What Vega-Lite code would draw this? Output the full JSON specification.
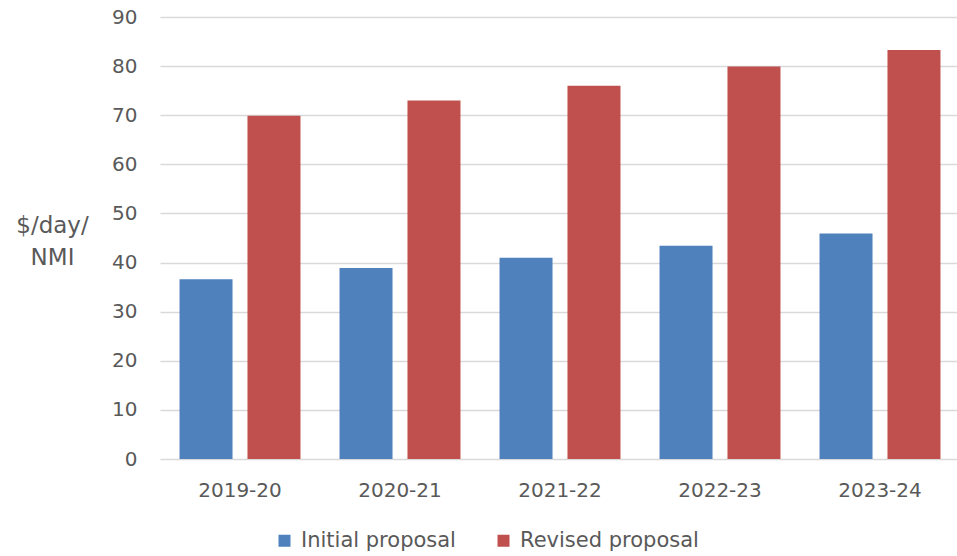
{
  "$schema": "https://vega.github.io/schema/vega-lite/v6.json",
  "width": 800,
  "height": 442,
  "autosize": {"type": "none"},
  "padding": {"left": 160, "top": 17, "right": 0, "bottom": 97},
  "background": "white",
  "config": {
    "font": "DejaVu Sans",
    "view": {"stroke": null}
  },
  "data": {
    "values": [
      {"year": "2019-20", "series": "Initial proposal", "value": 36.6},
      {"year": "2019-20", "series": "Revised proposal", "value": 69.9},
      {"year": "2020-21", "series": "Initial proposal", "value": 38.9},
      {"year": "2020-21", "series": "Revised proposal", "value": 73.0},
      {"year": "2021-22", "series": "Initial proposal", "value": 41.0},
      {"year": "2021-22", "series": "Revised proposal", "value": 76.0},
      {"year": "2022-23", "series": "Initial proposal", "value": 43.4},
      {"year": "2022-23", "series": "Revised proposal", "value": 79.9},
      {"year": "2023-24", "series": "Initial proposal", "value": 45.9},
      {"year": "2023-24", "series": "Revised proposal", "value": 83.3}
    ]
  },
  "mark": {"type": "bar"},
  "encoding": {
    "x": {
      "field": "year",
      "type": "nominal",
      "scale": {"paddingInner": 0.244, "paddingOuter": 0.122},
      "axis": {
        "title": null,
        "labelAngle": 0,
        "labelFontSize": 20,
        "labelColor": "#595959",
        "labelPadding": 31,
        "labelBaseline": "middle",
        "domain": false,
        "ticks": false
      }
    },
    "xOffset": {
      "field": "series",
      "type": "nominal",
      "scale": {"paddingInner": 0.22, "paddingOuter": 0}
    },
    "y": {
      "field": "value",
      "type": "quantitative",
      "scale": {"domain": [0, 90]},
      "axis": {
        "title": ["$/day/", "NMI"],
        "titleAngle": 0,
        "titleAlign": "center",
        "titleBaseline": "middle",
        "titleX": -108,
        "titleY": 208,
        "titleFontSize": 23,
        "titleFontWeight": "normal",
        "titleColor": "#595959",
        "titleLineHeight": 32,
        "values": [0, 10, 20, 30, 40, 50, 60, 70, 80, 90],
        "labelFontSize": 20,
        "labelColor": "#595959",
        "labelPadding": 23,
        "domain": false,
        "ticks": false,
        "gridColor": "#D9D9D9",
        "gridWidth": 1.3
      }
    },
    "color": {
      "field": "series",
      "type": "nominal",
      "scale": {
        "domain": ["Initial proposal", "Revised proposal"],
        "range": ["#4F81BD", "#C0504D"]
      },
      "legend": {
        "title": null,
        "orient": "none",
        "direction": "horizontal",
        "legendX": 114,
        "legendY": 513,
        "symbolType": "square",
        "symbolSize": 144,
        "symbolStrokeWidth": 0,
        "labelFontSize": 21,
        "labelColor": "#595959",
        "labelOffset": 6,
        "labelLimit": 400,
        "columnPadding": 37
      }
    }
  }
}
